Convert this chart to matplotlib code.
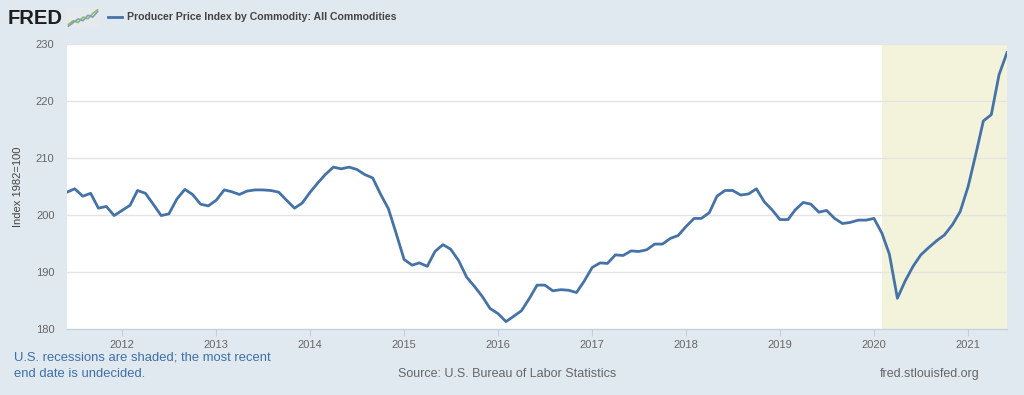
import numpy as np
import pandas as pd
import matplotlib
matplotlib.use("Agg")
import matplotlib.pyplot as plt
import matplotlib.dates as mdates

# monthly values, Jun 2011 .. Jun 2021
start_month = "2011-06-01"
ppi_values = [
    204.0, 204.6, 203.3, 203.8, 201.2, 201.5, 199.9,                         # 2011
    200.8, 201.7, 204.3, 203.8, 201.9, 199.9, 200.2, 202.8, 204.5, 203.6, 201.9, 201.6,  # 2012
    202.6, 204.4, 204.1, 203.6, 204.2, 204.4, 204.4, 204.3, 204.0, 202.6, 201.2, 202.1,  # 2013
    204.0, 205.7, 207.1, 208.4, 208.1, 208.4, 208.0, 207.1, 206.5, 203.7, 201.1, 196.8,  # 2014
    192.2, 191.2, 191.6, 191.0, 193.6, 194.8, 194.0, 192.0, 189.1, 187.5, 185.7, 183.6,  # 2015
    182.7, 181.3, 182.2, 183.2, 185.3, 187.7, 187.7, 186.7, 186.9, 186.8, 186.4, 188.4,  # 2016
    190.8, 191.6, 191.5, 193.0, 192.9, 193.7, 193.6, 193.9, 194.9, 194.9, 195.9, 196.4,  # 2017
    198.0, 199.4, 199.4, 200.4, 203.3, 204.3, 204.3, 203.5, 203.7, 204.6, 202.3, 200.9,  # 2018
    199.2, 199.2, 200.9, 202.2, 201.9, 200.5, 200.8, 199.4, 198.5, 198.7, 199.1, 199.1,  # 2019
    199.4, 196.8, 193.1, 185.4, 188.4, 191.0, 193.0, 194.3, 195.5, 196.5, 198.3, 200.6,  # 2020
    205.0, 210.9, 216.5, 217.6, 224.6, 228.5,                                 # 2021
]
recession_start = "2020-02-01"
recession_end = "2021-06-01"
y_ticks = [180, 190, 200, 210, 220, 230]
year_ticks = list(range(2012, 2022))

dates = pd.date_range(start_month, periods=len(ppi_values), freq="MS")

BG = "#e1e9f0"
LINE = "#4572a7"
W, H = 1024, 395

plt.rcParams['font.family'] = ['Liberation Sans', 'DejaVu Sans']

fig = plt.figure(figsize=(W / 100, H / 100), dpi=100)
fig.patch.set_facecolor(BG)

ax = fig.add_axes([67 / W, (H - 329) / H, (1007 - 67) / W, (329 - 44) / H])
ax.set_facecolor("white")

ax.axvspan(pd.Timestamp(recession_start), pd.Timestamp(recession_end),
           color="#f3f3dc", zorder=0, lw=0)
ax.plot(dates, ppi_values, color=LINE, lw=2, zorder=3)

ax.set_xlim(dates[0], dates[-1])
ax.set_ylim(180, 230)
ax.set_yticks(y_ticks)
ax.yaxis.grid(True, color="#e4e4e4", lw=1)
ax.set_axisbelow(True)

ax.set_xticks([pd.Timestamp(f"{y}-01-01") for y in year_ticks])
ax.xaxis.set_major_formatter(mdates.DateFormatter("%Y"))

for s in ["top", "right", "left"]:
    ax.spines[s].set_visible(False)
ax.spines["bottom"].set_color("#c0d0e0")

ax.tick_params(axis="y", length=0, pad=9, labelsize=8, labelcolor="#666666")
ax.tick_params(axis="x", length=5, color="#c0d0e0", pad=3, labelsize=8,
               labelcolor="#666666")

ax.set_ylabel("Index 1982=100", fontsize=8, color="#444444")
ax.yaxis.set_label_coords(-44 / 940, 0.5)

# header: logo + legend
fig.text(8 / W, 1 - 18 / H, "FRED", fontsize=14.5, fontweight="bold",
         color="#1e1e1e", va="center")
icon = fig.add_axes([66 / W, 1 - 28 / H, 34 / W, 20 / H])
icon_x = [0, 1, 2, 3, 4, 5, 6]
icon_a = [1, 2, 1.5, 3, 2.5, 4, 5]
icon_b = [0.5, 1.5, 2.5, 2, 3.5, 3, 4.5]
icon.plot(icon_x, icon_a, color="#8fbf5a", lw=1.2)
icon.plot(icon_x, icon_b, color="#7f9ec4", lw=1.2)
icon.set_xlim(-0.5, 6.5)
icon.set_ylim(0, 5.5)
icon.set_xticks([])
icon.set_yticks([])
icon.set_facecolor("#e6eaed")
for s in icon.spines.values():
    s.set_visible(False)

fig.lines.append(plt.Line2D([108 / W, 122 / W], [1 - 17 / H, 1 - 17 / H],
                            transform=fig.transFigure, color=LINE, lw=2))
fig.text(127 / W, 1 - 17 / H, "Producer Price Index by Commodity: All Commodities",
         fontsize=7.6, color="#444444", va="center", fontweight="semibold")

# footer
fig.text(14 / W, 1 - 357 / H, "U.S. recessions are shaded; the most recent",
         fontsize=9.4, color="#3f6fa8", va="center")
fig.text(14 / W, 1 - 374 / H, "end date is undecided.",
         fontsize=9.4, color="#3f6fa8", va="center")
fig.text(507 / W, 1 - 374 / H, "Source: U.S. Bureau of Labor Statistics",
         fontsize=9, color="#666666", va="center", ha="center")
fig.text(980 / W, 1 - 374 / H, "fred.stlouisfed.org",
         fontsize=9, color="#666666", va="center", ha="right")

fig.savefig("out.png", dpi=100, facecolor=BG)
